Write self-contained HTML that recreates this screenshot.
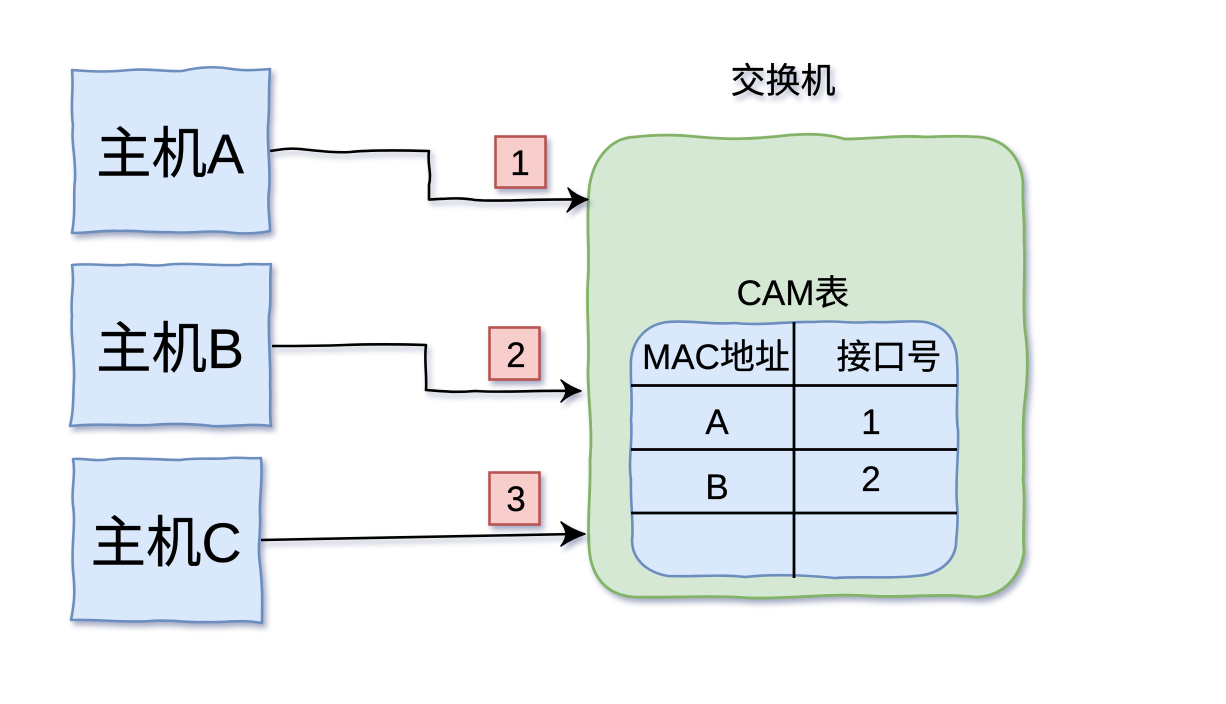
<!DOCTYPE html>
<html lang="zh">
<head>
<meta charset="utf-8">
<title>交换机 CAM表</title>
<style>
html,body{margin:0;padding:0;background:#fff;width:1226px;height:704px;overflow:hidden}
svg{display:block}
text{font-family:"Liberation Sans","Noto Sans CJK SC",sans-serif;fill:#000;stroke:#000;stroke-width:.3px;text-anchor:middle}
.s{filter:drop-shadow(3px 4px 3px rgba(70,80,130,.48))}
.host{fill:#dae8fc;stroke:#6c8ebf;stroke-width:2.6;stroke-linejoin:round}
.conn{fill:none;stroke:#000;stroke-width:2.6;stroke-linejoin:round}
.tl{fill:none;stroke:#000;stroke-width:2.8}
.big{font-size:55.500px}
.mid{font-size:35px}
</style>
</head>
<body>
<svg width="1226" height="704" viewBox="0 0 1226 704" xmlns="http://www.w3.org/2000/svg">
  <!-- switch -->
  <path class="s" d="M634 137 C660 134 680 135 700 137 C730 140 755 139 790 135 C815 133 830 135 845 139 C870 139 900 135 925 137 C945 136 965 136 980 137 C1008 140 1022 160 1023 185 C1022 205 1025 222 1024 240 C1026 270 1022 300 1025 330 C1028 350 1028 375 1025 400 C1021 430 1025 455 1023 480 C1026 500 1022 530 1024 552 C1020 580 1000 597 975 597 C940 593 905 598 870 596 C830 593 790 599 750 598 C710 595 670 598 634 597 C605 595 590 575 589 545 C587 520 591 490 590 460 C593 430 588 400 588 370 C590 340 586 310 588 280 C590 250 586 225 589 190 C592 160 610 138 634 137 Z" fill="#d5e8d4" stroke="#82b366" stroke-width="2.800"/>

  <!-- table -->
  <path d="M668 322 C690 320 710 325 735 323 C760 326 790 321 815 322 C835 320 850 324 870 322 C895 323 910 320 925 322 C945 326 957 340 957 362 C959 385 955 410 958 430 C959 455 955 480 957 505 C959 525 956 535 956 545 C953 565 935 575 915 576 C890 579 860 576 835 578 C805 575 770 574 745 577 C720 574 695 577 668 576 C645 572 632 558 632 540 C634 525 630 500 631 480 C628 460 633 440 631 420 C633 400 630 380 631 360 C633 338 648 324 668 322 Z" fill="#dae8fc" stroke="#6c8ebf" stroke-width="2.600"/>
  <path class="tl" d="M631 385.500 H957 M631 449.500 H957 M631 513 H957 M794 322 V578"/>

  <!-- hosts -->
  <path class="s host" d="M72 70 C95 72 110 72 130 70 C150 68 165 72 182 71 C200 67 215 66 232 69 C245 71 258 70 270 69 C268 95 270 105 268 125 C267 150 271 170 269 190 C267 205 270 220 270 231 C255 234 240 234 225 232 C205 230 190 234 170 232 C150 233 135 230 120 231 C105 230 88 233 72 233 C76 212 73 195 75 180 C76 155 71 145 73 125 C70 105 74 90 72 70 Z"/>
  <path class="s host" d="M72 265 C90 263 105 266 125 265 C140 263 150 267 165 265 C185 262 215 266 240 265 C250 263 262 265 271 264 C269 285 272 300 269 315 C268 340 271 365 270 385 C271 400 269 415 271 426 C250 423 235 427 212 426 C195 424 175 423 150 425 C125 426 100 423 70 426 C74 410 73 395 74 380 C75 355 70 335 72 315 C70 300 75 285 72 265 Z"/>
  <path class="s host" d="M73 459 C85 458 95 462 110 459 C130 457 160 460 180 460 C200 457 215 460 230 458 C240 457 250 459 261 458 C263 480 259 500 260 515 C261 535 257 545 260 565 C263 590 262 605 262 623 C240 619 225 623 205 622 C185 623 170 619 150 621 C125 623 100 619 71 620 C75 600 75 590 73 570 C71 545 76 525 73 505 C71 490 76 475 73 459 Z"/>

  <!-- connectors -->
  <g class="s">
    <path class="conn" d="M270 151 C283 149 290 148 300 149 C320 151 335 153 350 152 C370 150 395 150 429 151 C427 165 432 172 429 185 L429 199.500 C445 199 460 197 475 200 C500 202 530 199 578 199.500"/>
    <path d="M568 188 C574 194 580 197 588 199.500 C580 202 574 206 567 212 C570 207 572 204 573 200 C572 196 570 192 568 188 Z" fill="#000" stroke="#000" stroke-width="1.500" stroke-linejoin="round"/>
    <path class="conn" d="M272 346 C300 346 320 346 345 345 C370 344 395 344 426 345 C424 360 427 375 426 390 C440 391 455 393 475 391 C505 393 535 390 572 391"/>
    <path d="M561 380 C567 385 574 388 581 391 C574 393 567 396 561 402 C564 398 566 395 566 391 C566 387 564 384 561 380 Z" fill="#000" stroke="#000" stroke-width="1.500" stroke-linejoin="round"/>
    <path class="conn" d="M261 540 C350 538 450 537 575 534"/>
    <path d="M561 522 C568 527 576 531 585 534 C576 537 568 541 561 546 C564 542 566 538 566 534 C566 530 564 526 561 522 Z" fill="#000" stroke="#000" stroke-width="1.500" stroke-linejoin="round"/>
  </g>

  <!-- badges -->
  <rect class="s" x="495.500" y="136.500" width="50" height="51" fill="#f8cecc" stroke="#b85450" stroke-width="2.600"/>
  <rect class="s" x="489.500" y="327.500" width="50" height="52" fill="#f8cecc" stroke="#b85450" stroke-width="2.600"/>
  <rect class="s" x="489.500" y="472.500" width="50" height="52" fill="#f8cecc" stroke="#b85450" stroke-width="2.600"/>

  <!-- labels -->
  <text class="big" x="170" y="173">主机A</text>
  <text class="big" x="170" y="368">主机B</text>
  <text class="big" x="166" y="562">主机C</text>

  <text class="mid s" x="783" y="93">交换机</text>
  <text class="mid" x="793" y="305">CAM表</text>
  <text class="mid" x="716" y="369">MAC地址</text>
  <text class="mid" x="889" y="369">接口号</text>
  <text class="mid" x="717" y="434">A</text>
  <text class="mid" x="871" y="434">1</text>
  <text class="mid" x="717" y="499">B</text>
  <text class="mid" x="871" y="491">2</text>
  <text class="mid" x="520" y="175">1</text>
  <text class="mid" x="516" y="367">2</text>
  <text class="mid" x="516" y="511">3</text>
</svg>
</body>
</html>
